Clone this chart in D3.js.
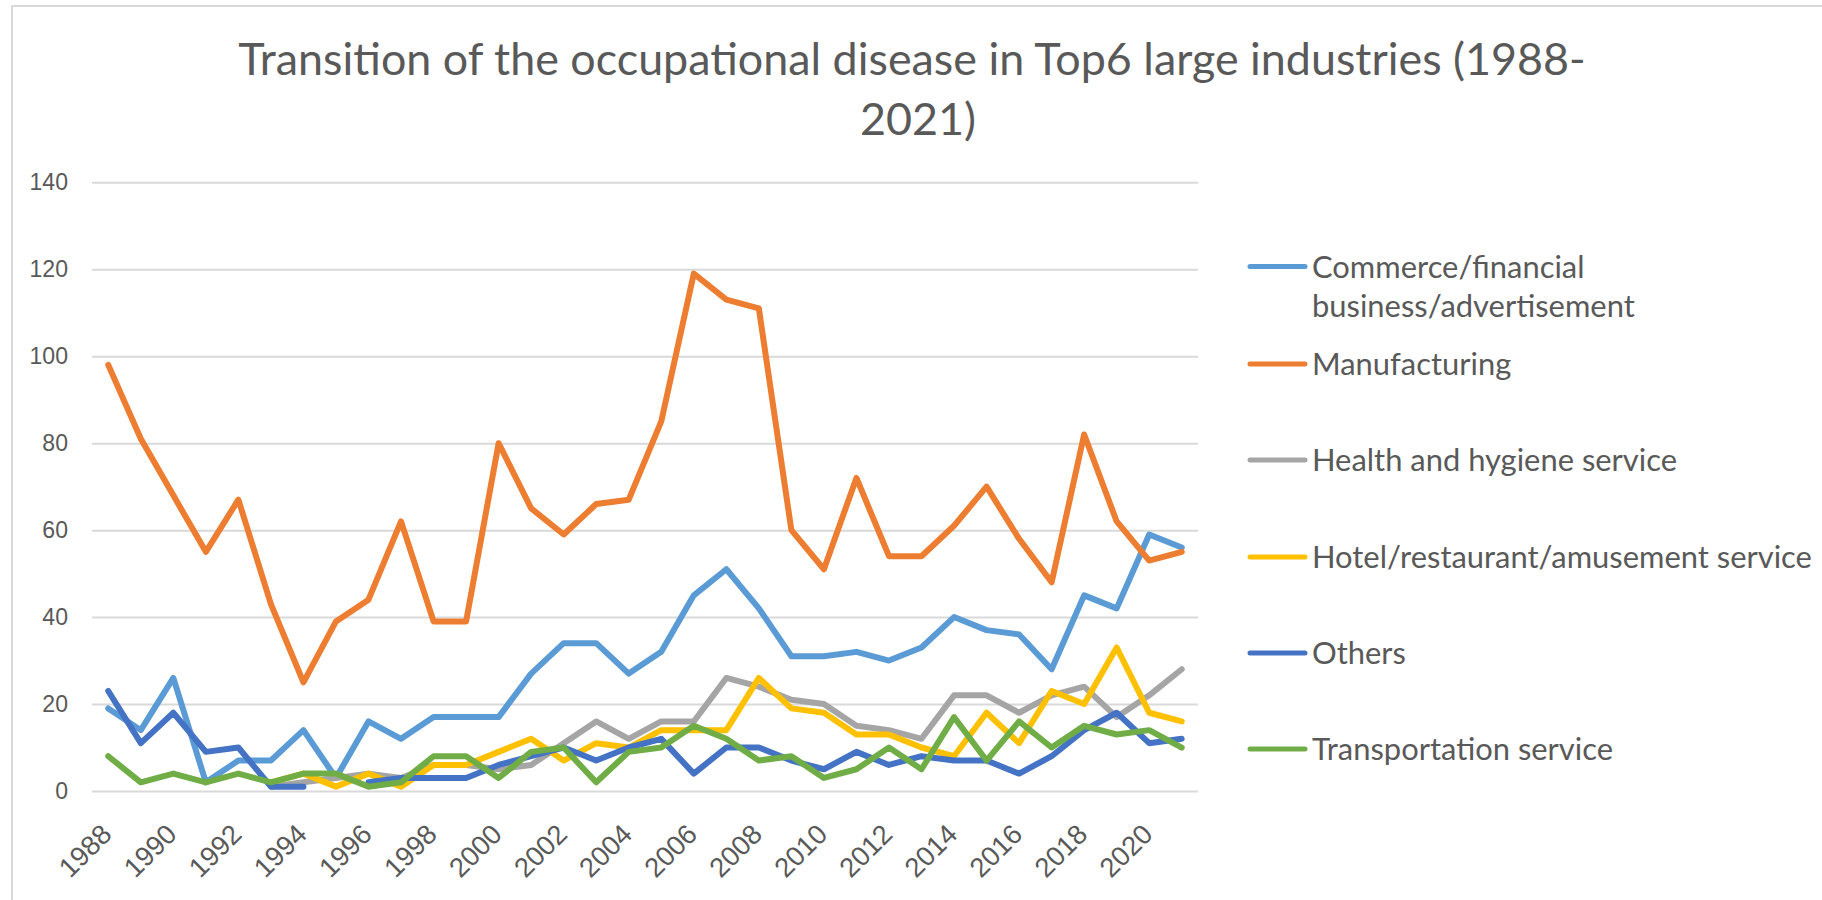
<!DOCTYPE html>
<html>
<head>
<meta charset="utf-8">
<script src="https://cdn.jsdelivr.net/npm/d3@7"></script>
<style>
  body { margin: 0; background: #fff; }
  svg { display: block; font-family: Lato, "Open Sans", sans-serif; }
</style>
</head>
<body>
<div id="graph"></div>
<script>
const years = [1988,1989,1990,1991,1992,1993,1994,1995,1996,1997,1998,1999,2000,2001,2002,2003,2004,
    2005,2006,2007,2008,2009,2010,2011,2012,2013,2014,2015,2016,2017,2018,2019,2020,2021]
const yTicks = [0,20,40,60,80,100,120,140]
const xTickYears = [1988,1990,1992,1994,1996,1998,2000,2002,2004,2006,2008,2010,2012,2014,2016,2018,2020]

const commerce = [19,14,26,2,7,7,14,3,16,12,17,17,17,27,34,34,27,32,45,51,42,31,31,32,30,33,40,37,36,28,45,42,59,56]
const manufacturing = [98,81,68,55,67,43,25,39,44,62,39,39,80,65,59,66,67,85,119,113,111,60,51,72,54,54,61,70,58,48,82,62,53,55]
const health = [null,null,null,null,null,1,2,3,4,3,6,6,5,6,11,16,12,16,16,26,24,21,20,15,14,12,22,22,18,22,24,17,22,28]
const hotel = [null,null,null,null,null,2,4,1,4,1,6,6,9,12,7,11,10,14,14,14,26,19,18,13,13,10,8,18,11,23,20,33,18,16]
const others = [23,11,18,9,10,1,1,null,2,3,3,3,6,8,10,7,10,12,4,10,10,7,5,9,6,8,7,7,4,8,14,18,11,12]
const transport = [8,2,4,2,4,2,4,4,1,2,8,8,3,9,10,2,9,10,15,12,7,8,3,5,10,5,17,7,16,10,15,13,14,10]

const seriesNames = ["Commerce/financial business/advertisement","Manufacturing","Health and hygiene service",
    "Hotel/restaurant/amusement service","Others","Transportation service"]
const seriesColors = ["#5B9BD5","#ED7D31","#A5A5A5","#FFC000","#4472C4","#70AD47"]
const seriesValues = [commerce, manufacturing, health, hotel, others, transport]

const width = 1822
const height = 900
const plotLeft = 92, plotRight = 1198, plotTop = 182.3, plotBottom = 791
const textColor = "#595959"

// fit a text's font size so it gets a wanted width
const fitWidth = (sel, target) => {
    const w = sel.node().getComputedTextLength()
    const fs = parseFloat(sel.style("font-size"))
    const size = fs * target / w
    sel.style("font-size", size + "px")
    return size
}

const svg = d3.select("#graph").append("svg")
    .attr("width", width)
    .attr("height", height)

// chart frame (runs off the picture at right and bottom)
svg.append("rect")
    .attr("x", 12).attr("y", 6)
    .attr("width", 3000).attr("height", 3000)
    .attr("fill", "none")
    .attr("stroke", "#d9d9d9")
    .attr("stroke-width", 2)

const xScale = d3.scaleBand().domain(years).range([plotLeft, plotRight])
const yScale = d3.scaleLinear().domain([0, 140]).range([plotBottom, plotTop])
const xPos = (i) => xScale(years[i]) + xScale.bandwidth() / 2

// y axis with gridlines
const yAxis = d3.axisLeft(yScale).tickValues(yTicks).tickSize(-(plotRight - plotLeft)).tickPadding(24)
const yg = svg.append("g").attr("transform", `translate(${plotLeft},0)`).call(yAxis)
yg.select(".domain").remove()
yg.selectAll("line").attr("stroke", "#d9d9d9").attr("stroke-width", 2)
yg.selectAll("text").attr("fill", textColor).style("font-size", "22px")
const ySize = fitWidth(yg.selectAll("text").filter(d => d === 140), 38.5)
yg.selectAll("text").style("font-size", ySize + "px")

// x axis, labels turned 45 degrees
const xAxis = d3.axisBottom(xScale).tickValues(xTickYears).tickSize(0)
const xg = svg.append("g").attr("transform", `translate(0,${plotBottom})`).call(xAxis)
xg.select(".domain").remove()
xg.selectAll("text")
    .attr("fill", textColor)
    .attr("text-anchor", "end")
    .attr("x", 0).attr("y", 0).attr("dy", 0)
    .attr("transform", "translate(5,45) rotate(-45)")
    .style("font-size", "26px")
const xSize = fitWidth(xg.selectAll("text").filter(d => d === 1988), 61)
xg.selectAll("text").style("font-size", xSize + "px")

// lines
const line = d3.line()
    .defined(d => d[1] !== null)
    .x(d => xPos(d[0]))
    .y(d => yScale(d[1]))

seriesValues.forEach((vals, k) => {
    svg.append("path")
        .datum(vals.map((v, i) => [i, v]))
        .attr("d", line)
        .attr("fill", "none")
        .attr("stroke", seriesColors[k])
        .attr("stroke-width", 6)
        .attr("stroke-linejoin", "round")
        .attr("stroke-linecap", "round")
})

// title
const title = svg.append("g").attr("fill", textColor).style("font-weight", 400)
const t1 = title.append("text").attr("x", 912).attr("y", 75).attr("text-anchor", "middle")
    .style("font-size", "44px")
    .text("Transition of the occupational disease in Top6 large industries (1988-")
const tSize = fitWidth(t1, 1348)
title.append("text").attr("x", 918).attr("y", 135).attr("text-anchor", "middle")
    .style("font-size", tSize + "px")
    .text("2021)")

// legend
const legendY = [266.5, 364, 460, 557, 653, 749]
const legend = svg.append("g").attr("id", "legend")
const probe = legend.append("text").style("font-size", "30px").text(seriesNames[3])
const lSize = fitWidth(probe, 500)
probe.remove()

seriesNames.forEach((name, k) => {
    const y = legendY[k]
    legend.append("line")
        .attr("x1", 1250).attr("x2", 1305)
        .attr("y1", y).attr("y2", y)
        .attr("stroke", seriesColors[k])
        .attr("stroke-width", 5)
        .attr("stroke-linecap", "round")
    const lines = k === 0 ? ["Commerce/financial", "business/advertisement"] : [name]
    const txt = legend.append("text")
        .attr("x", 1312).attr("y", y + 11)
        .attr("fill", textColor)
        .style("font-size", lSize + "px")
    lines.forEach((s, j) => {
        txt.append("tspan").attr("x", 1312).attr("dy", j === 0 ? 0 : 39).text(s)
    })
})
</script>
</body>
</html>
